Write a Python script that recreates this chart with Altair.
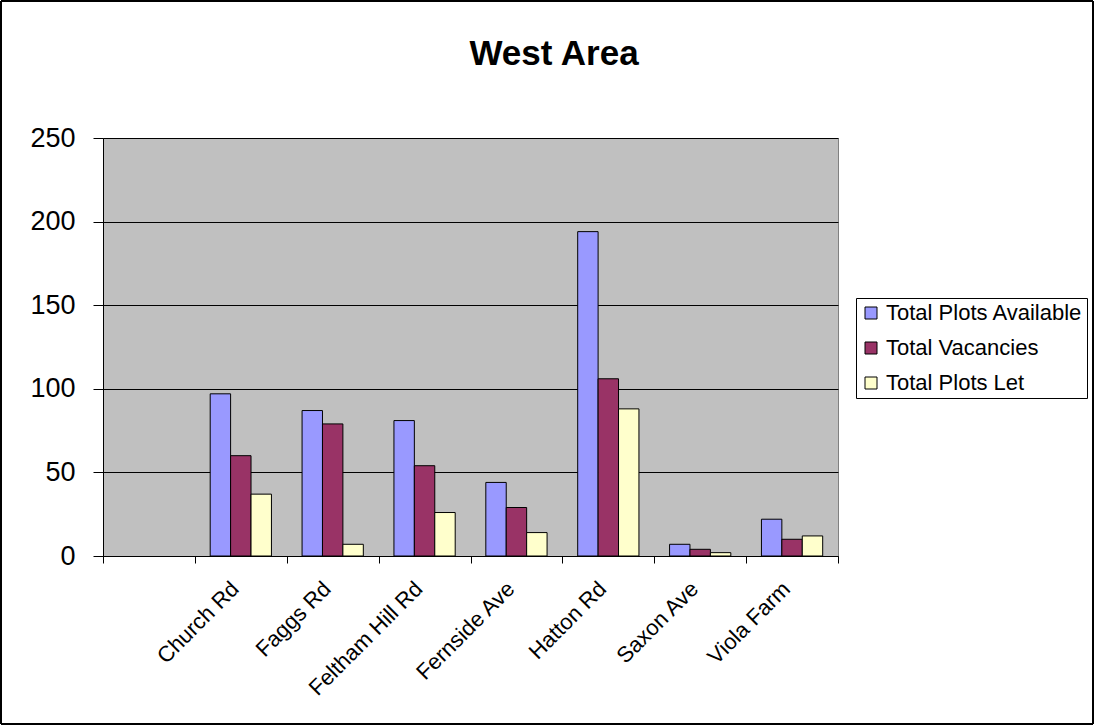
import altair as alt
import pandas as pd

categories = [" ", "Church Rd", "Faggs Rd", "Feltham Hill Rd", "Fernside Ave", "Hatton Rd", "Saxon Ave", "Viola Farm"]
sites = ["Church Rd", "Faggs Rd", "Feltham Hill Rd", "Fernside Ave", "Hatton Rd", "Saxon Ave", "Viola Farm"]
series = ["Total Plots Available", "Total Vacancies", "Total Plots Let"]
available = [97, 87, 81, 44, 194, 7, 22]
vacancies = [60, 79, 54, 29, 106, 4, 10]
plots_let = [37, 7, 26, 14, 88, 2, 12]
colors = ["#9999FF", "#993366", "#FFFFCC"]
title_text = ["West Area"]

rows = []
for s, vals in zip(series, [available, vacancies, plots_let]):
    for site, v in zip(sites, vals):
        rows.append({"site": site, "series": s, "value": v})
df = pd.DataFrame(rows)

FONT = "Liberation Sans"

bars = alt.Chart(df).mark_bar(stroke="black", strokeWidth=1).encode(
    x=alt.X("site:N", sort=categories,
            scale=alt.Scale(domain=categories, paddingInner=0, paddingOuter=0),
            axis=alt.Axis(title=None, labelAngle=-45, labelAlign="right", labelBaseline="middle",
                          labelFontSize=22, labelFont=FONT, labelColor="black",
                          tickBand="extent", tickSize=7, tickColor="black",
                          domainColor="black", labelPadding=22, labelOffset=-6, grid=False)),
    xOffset=alt.XOffset("series:N", sort=series,
                        scale=alt.Scale(domain=series, paddingInner=0, paddingOuter=0.75)),
    y=alt.Y("value:Q", scale=alt.Scale(domain=[0, 250]),
            axis=alt.Axis(title=None, values=[0, 50, 100, 150, 200, 250], labelFontSize=27,
                          labelFont=FONT, labelColor="black", tickSize=10, tickColor="black",
                          domainColor="black", labelPadding=18, grid=True, gridColor="black",
                          gridOpacity=1, gridWidth=1)),
    color=alt.Color("series:N", sort=series,
                    scale=alt.Scale(domain=series, range=colors),
                    legend=alt.Legend(title=None, orient="none", legendX=753, legendY=160,
                                      symbolType="square", symbolSize=144, symbolStrokeColor="black",
                                      symbolStrokeWidth=1, labelFontSize=22, labelFont=FONT,
                                      labelColor="black", rowPadding=13, padding=4,
                                      strokeColor="black", fillColor="white", labelLimit=400)),
)

title = alt.Chart(pd.DataFrame({"t": title_text})).mark_text(
    font=FONT, fontSize=35, fontWeight="bold", color="black", align="center", baseline="alphabetic"
).encode(text="t:N", x=alt.value(451), y=alt.value(-73))

border = alt.Chart(df).mark_rect(fill=None, stroke="black", strokeWidth=1).encode(
    x=alt.value(-102), x2=alt.value(990), y=alt.value(-137), y2=alt.value(586)
)

chart = alt.layer(bars, title, border).properties(
    width=735, height=418,
    autosize=alt.AutoSizeParams(type="none"),
    padding={"left": 103, "top": 138, "right": 256, "bottom": 169},
    background="white",
).configure_view(fill="#C0C0C0", stroke="#808080", strokeWidth=1)

chart.save("out.html", embed_options={"renderer": "svg", "actions": False})
